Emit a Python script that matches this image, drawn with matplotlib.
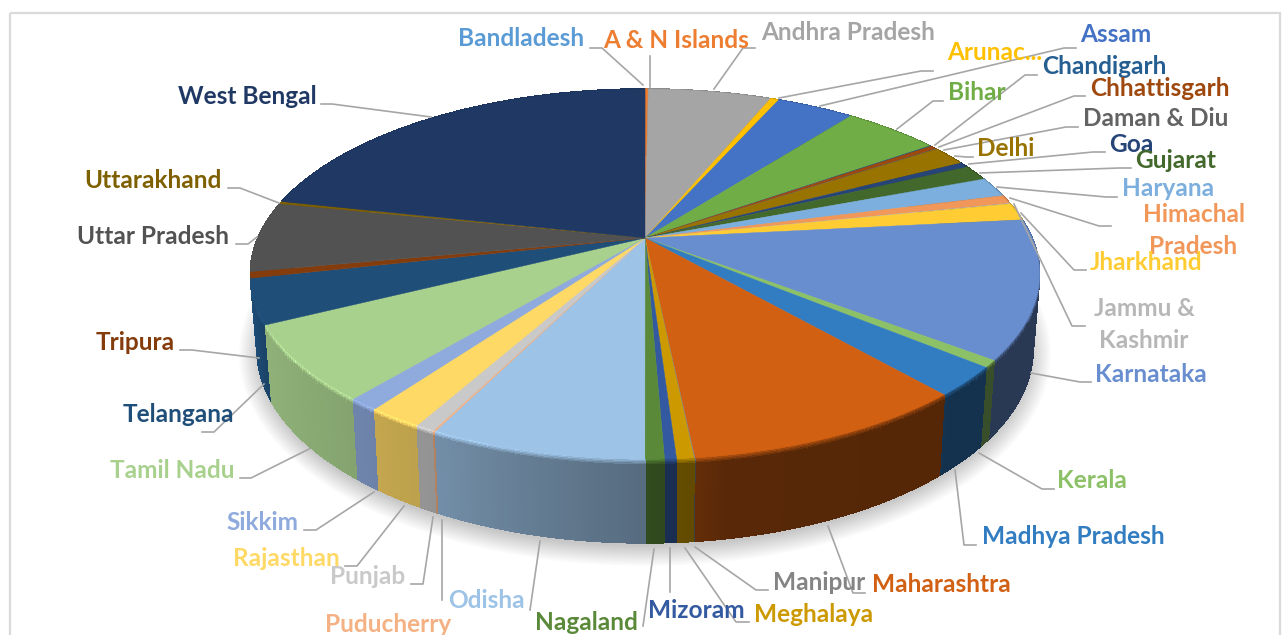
import numpy as np
import matplotlib
matplotlib.use("Agg")
import matplotlib.pyplot as plt
from matplotlib.collections import PolyCollection
from matplotlib.patches import Rectangle, Ellipse

states = ["Bandladesh", "A & N Islands", "Andhra Pradesh", "Arunachal Pradesh", "Assam", "Bihar",
          "Chandigarh", "Chhattisgarh", "Daman & Diu", "Delhi", "Goa", "Gujarat", "Haryana",
          "Himachal Pradesh", "Jammu & Kashmir", "Jharkhand", "Karnataka", "Kerala", "Madhya Pradesh",
          "Maharashtra", "Manipur", "Meghalaya", "Mizoram", "Nagaland", "Odisha", "Puducherry",
          "Punjab", "Rajasthan", "Sikkim", "Tamil Nadu", "Telangana", "Tripura", "Uttar Pradesh",
          "Uttarakhand", "West Bengal"]
shares = [0.02, 0.14, 6.09, 0.42, 3.83, 4.75, 0.06, 0.33, 0.06, 1.72, 0.47, 1.36, 1.75, 0.75, 0.06,
          1.53, 12.03, 0.61, 2.56, 9.81, 0.03, 0.58, 0.40, 0.65, 7.36, 0.08, 0.67, 1.89, 1.06, 6.58,
          3.89, 0.56, 6.11, 0.22, 21.58]
colors = ["#5B9BD5", "#ED7D31", "#A5A5A5", "#FFC000", "#4472C4", "#70AD47", "#255E91", "#9E480E",
          "#636363", "#997300", "#264478", "#43682B", "#7CAFDD", "#F1975A", "#B7B7B7", "#FFCD33",
          "#698ED0", "#8CC168", "#327DC2", "#D26012", "#848484", "#CC9A00", "#335AA1", "#5A8A39",
          "#9DC3E6", "#F4B183", "#C9C9C9", "#FFD966", "#8FAADC", "#A9D18E", "#1F4E79", "#843C0C",
          "#525252", "#7F6000", "#1F3864"]

# label layout: text, centre x, centre y, colour index
label_layout = [
    ("Bandladesh", 521, 38, 0), ("A & N Islands", 676, 40, 1), ("Andhra Pradesh", 848, 33, 2),
    ("Arunac...", 995, 53, 3), ("Assam", 1116, 35, 4), ("Bihar", 977, 93, 5),
    ("Chandigarh", 1104, 67, 6), ("Chhattisgarh", 1160, 88, 7), ("Daman & Diu", 1156, 119, 8),
    ("Delhi", 1006, 149, 9), ("Goa", 1131, 145, 10), ("Gujarat", 1176, 160, 11),
    ("Haryana", 1168, 189, 12), ("Himachal", 1194, 214, 13), ("Pradesh", 1193, 247, 13),
    ("Jammu &", 1144, 308, 14), ("Kashmir", 1144, 341, 14), ("Jharkhand", 1146, 262, 15),
    ("Karnataka", 1151, 374, 16), ("Kerala", 1092, 481, 17), ("Madhya Pradesh", 1073, 537, 18),
    ("Maharashtra", 941, 585, 19), ("Manipur", 819, 583, 20), ("Meghalaya", 814, 614, 21),
    ("Mizoram", 696, 611, 22), ("Nagaland", 586, 623, 23), ("Odisha", 486, 601, 24),
    ("Puducherry", 388, 624, 25), ("Punjab", 368, 577, 26), ("Rajasthan", 286, 559, 27),
    ("Sikkim", 262, 523, 28), ("Tamil Nadu", 172, 471, 29), ("Telangana", 178, 414, 30),
    ("Tripura", 135, 343, 31), ("Uttar Pradesh", 153, 236, 32), ("Uttarakhand", 153, 181, 33),
    ("West Bengal", 247, 97, 34),
]
leader_layout = [
    ([590, 602, 643], [48, 48, 85]), ([649.5, 649.5], [56, 87]), ([755, 743, 714], [48, 48, 89]),
    ([933, 921, 779], [71, 71, 98]), ([1076, 1064, 820], [48, 48, 106]), ([943, 933, 897], [101, 101, 129]),
    ([1037, 1025, 935], [75, 75, 145]), ([1085, 1074, 939], [96, 96, 147]), ([1078, 1066, 944], [127, 127, 150]),
    ([973, 966, 955], [157, 157, 156]), ([1105, 1093, 969], [152, 152, 164]), ([1131, 1119, 980], [168, 168, 173]),
    ([1117, 1106, 997], [197, 197, 187]), ([1111, 1099, 1010], [226, 226, 198]), ([1085, 1072, 1014], [326, 326, 204]),
    ([1086, 1074, 1021], [270, 270, 213]), ([1091, 1080, 1031], [382, 382, 373]), ([1054, 1042, 979], [489, 489, 453]),
    ([976, 964, 955], [545, 545, 470]), ([865, 853, 828], [593, 593, 526]), ([768, 756, 695], [590, 590, 547]),
    ([749, 736, 685], [622, 622, 548]), ([669.5, 669.5], [592, 548]), ([643, 654], [626, 549]),
    ([530, 540], [610, 541]), ([442, 442], [600, 520]), ([411, 423, 433], [584, 584, 517]),
    ([345, 357, 404], [566, 566, 506]), ([304, 316, 374], [530, 530, 492]), ([240, 251, 309], [478, 478, 449]),
    ([202, 214, 264], [432, 432, 384]), ([180, 192, 259], [350, 350, 358]), ([236, 248, 257], [244, 244, 237]),
    ([228, 240, 279], [188, 188, 203]), ([321, 332, 431], [104, 104, 117]),
]

W, H = 1282, 635
CX, CY_TOP, CY_BOT = 645.0, 238.0, 311.0
A_TOP, B_TOP, A_BOT, B_BOT, K = 387.0, 178.0, 380.6, 186.6, 0.195


def rim(phi_deg, top=True, r=1.0):
    p = np.radians(phi_deg)
    u, v = r * np.sin(p), r * np.cos(p)
    d = 1 + K * v
    if top:
        return CX + A_TOP * u / d, CY_TOP - B_TOP * v / d
    return CX + A_BOT * u / d, CY_BOT - B_BOT * v / d


def wall_point(phi, t):
    x0, y0 = rim(phi, True)
    x1, y1 = rim(phi, False)
    return x0 + (x1 - x0) * t, y0 + (y1 - y0) * t


def shade(phi):
    return np.interp(phi, [0, 130, 170, 180, 207, 225, 243, 255, 275, 360],
                     [.40, .40, .42, .55, .73, .80, .85, 1.0, 1.0, .9])


def rim_light(phi):
    return np.interp(phi, [0, 90, 130, 170, 185, 207, 235, 255, 360],
                     [.9, .8, .75, .95, 1.05, 1.2, 1.2, 1.0, .9])


fig = plt.figure(figsize=(W / 100, H / 100), dpi=100)
ax = fig.add_axes([0, 0, 1, 1])
ax.set_xlim(0, W)
ax.set_ylim(H, 0)
ax.axis("off")

ax.add_patch(Rectangle((10, 13), 1270, 640, fill=False, ec="#DADADA", lw=1.6, zorder=0))

# soft shadow under the pie
for i in range(14):
    ax.add_patch(Ellipse((645, 354), 2 * (388 + 18 - i * 1.6), 2 * (194 + 18 - i * 1.5),
                         fc="black", ec="none", alpha=0.016, zorder=1))

vals = np.asarray(shares, dtype=float)
edges = np.concatenate([[0], np.cumsum(vals) / vals.sum() * 360])
rgb = [np.array(matplotlib.colors.to_rgb(c)) for c in colors]

# side wall
bands = np.concatenate([np.linspace(0, .07, 5), np.linspace(.1, 1, 4)])
wall = []
for i, base in enumerate(rgb):
    steps = max(2, int((edges[i + 1] - edges[i]) / 0.6) + 1)
    ph = np.linspace(edges[i], edges[i + 1], steps)
    for a, b in zip(ph[:-1], ph[1:]):
        mid = (a + b) / 2
        for t0, t1 in zip(bands[:-1], bands[1:]):
            tm = (t0 + t1) / 2
            s = shade(mid)
            f = rim_light(mid) + (s - rim_light(mid)) * min(tm / .08, 1)
            col = np.clip(base * f + (0.18 * max(0, f - 1)), 0, 1)
            p0, p1 = wall_point(a, t0), wall_point(b, t0)
            p2, p3 = wall_point(b, t1), wall_point(a, t1)
            wall.append((np.cos(np.radians(mid)), [p0, p1, p2, p3], col))
wall.sort(key=lambda w: -w[0])
ax.add_collection(PolyCollection([w[1] for w in wall], facecolors=[w[2] for w in wall],
                                 edgecolors=[w[2] for w in wall], linewidths=0.6,
                                 antialiaseds=False, zorder=2))

# top face
polys = []
for i in range(len(vals)):
    ph = np.linspace(edges[i], edges[i + 1], max(3, int(edges[i + 1] - edges[i]) * 2 + 2))
    xs, ys = rim(ph)
    polys.append(np.vstack([[CX, CY_TOP], np.column_stack([xs, ys])]))
ax.add_collection(PolyCollection(polys, facecolors=colors, edgecolors=colors, linewidths=0.3, zorder=3))

for xs, ys in leader_layout:
    ax.plot(xs, ys, color="#A6A6A6", lw=1.2, zorder=4, solid_joinstyle="round")

for text, x, y, idx in label_layout:
    ax.text(x, y, text, color=colors[idx], ha="center", va="center", fontsize=17.6,
            fontweight="bold", family=["Lato", "DejaVu Sans"], zorder=5)

fig.savefig("out.png", dpi=100)
